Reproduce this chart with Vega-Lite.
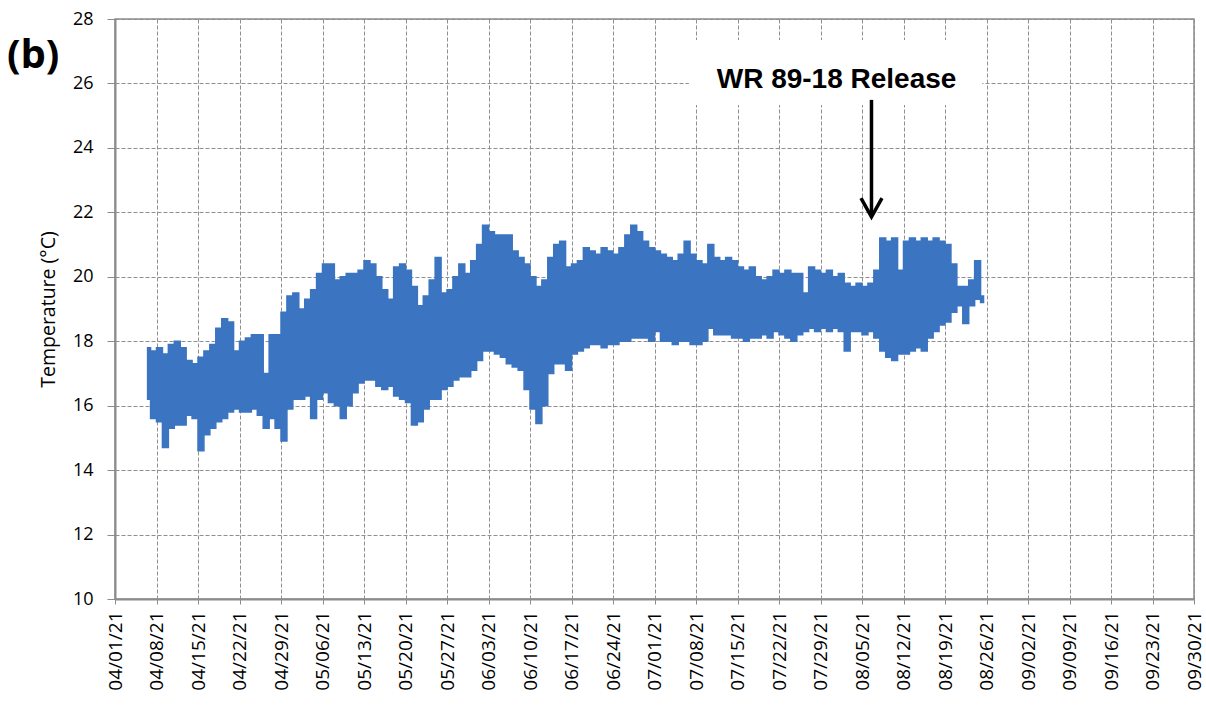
{
  "$schema": "https://vega.github.io/schema/vega-lite/v6.json",
  "width": 1079,
  "height": 580,
  "autosize": {"type": "none"},
  "padding": {"left": 115, "top": 19, "right": 12, "bottom": 107},
  "background": "white",
  "title": {"text": "(b)", "anchor": "start", "frame": "group", "orient": "top", "fontSize": 40, "fontWeight": "bold", "font": "Open Sans", "color": "#000000", "baseline": "alphabetic", "dx": -108, "dy": 102, "offset": 4},
  "config": {
    "view": {"stroke": "#8c8c8c", "strokeWidth": 1.5},
    "axis": {"labelFont": "Open Sans", "titleFont": "Open Sans", "labelColor": "#000000", "titleColor": "#000000"},
    "axisY": {"titleFontSize": 19.5, "titleFontWeight": "normal", "titleX": -57, "titleY": 290, "labelFontSize": 18}
  },
  "datasets": {
    "temp": [
      {"t":"2021-04-06T12:00","lo":16.2,"hi":17.8},
      {"t":"2021-04-07T12:00","lo":15.6,"hi":17.7},
      {"t":"2021-04-08T12:00","lo":15.5,"hi":17.8},
      {"t":"2021-04-09T12:00","lo":14.7,"hi":17.6},
      {"t":"2021-04-10T12:00","lo":15.3,"hi":17.9},
      {"t":"2021-04-11T12:00","lo":15.4,"hi":18.0},
      {"t":"2021-04-12T12:00","lo":15.4,"hi":17.8},
      {"t":"2021-04-13T12:00","lo":15.7,"hi":17.4},
      {"t":"2021-04-14T12:00","lo":15.6,"hi":17.3},
      {"t":"2021-04-15T12:00","lo":14.6,"hi":17.5},
      {"t":"2021-04-16T12:00","lo":15.1,"hi":17.7},
      {"t":"2021-04-17T12:00","lo":15.3,"hi":17.9},
      {"t":"2021-04-18T12:00","lo":15.5,"hi":18.4},
      {"t":"2021-04-19T12:00","lo":15.6,"hi":18.7},
      {"t":"2021-04-20T12:00","lo":15.8,"hi":18.6},
      {"t":"2021-04-21T12:00","lo":15.9,"hi":17.7},
      {"t":"2021-04-22T12:00","lo":15.8,"hi":18.0},
      {"t":"2021-04-23T12:00","lo":15.8,"hi":18.1},
      {"t":"2021-04-24T12:00","lo":15.9,"hi":18.2},
      {"t":"2021-04-25T12:00","lo":15.7,"hi":18.2},
      {"t":"2021-04-26T12:00","lo":15.3,"hi":17.0},
      {"t":"2021-04-27T12:00","lo":15.6,"hi":18.2},
      {"t":"2021-04-28T12:00","lo":15.3,"hi":18.2},
      {"t":"2021-04-29T12:00","lo":14.9,"hi":18.9},
      {"t":"2021-04-30T12:00","lo":15.9,"hi":19.4},
      {"t":"2021-05-01T12:00","lo":16.2,"hi":19.5},
      {"t":"2021-05-02T12:00","lo":16.2,"hi":19.0},
      {"t":"2021-05-03T12:00","lo":16.3,"hi":19.3},
      {"t":"2021-05-04T12:00","lo":15.6,"hi":19.6},
      {"t":"2021-05-05T12:00","lo":16.2,"hi":20.1},
      {"t":"2021-05-06T12:00","lo":16.4,"hi":20.4},
      {"t":"2021-05-07T12:00","lo":16.1,"hi":20.4},
      {"t":"2021-05-08T12:00","lo":16.0,"hi":19.9},
      {"t":"2021-05-09T12:00","lo":15.6,"hi":20.0},
      {"t":"2021-05-10T12:00","lo":16.0,"hi":20.1},
      {"t":"2021-05-11T12:00","lo":16.4,"hi":20.1},
      {"t":"2021-05-12T12:00","lo":16.7,"hi":20.2},
      {"t":"2021-05-13T12:00","lo":16.8,"hi":20.5},
      {"t":"2021-05-14T12:00","lo":16.8,"hi":20.4},
      {"t":"2021-05-15T12:00","lo":16.6,"hi":20.0},
      {"t":"2021-05-16T12:00","lo":16.5,"hi":19.6},
      {"t":"2021-05-17T12:00","lo":16.6,"hi":19.3},
      {"t":"2021-05-18T12:00","lo":16.3,"hi":20.3},
      {"t":"2021-05-19T12:00","lo":16.2,"hi":20.4},
      {"t":"2021-05-20T12:00","lo":16.1,"hi":20.2},
      {"t":"2021-05-21T12:00","lo":15.4,"hi":19.7},
      {"t":"2021-05-22T12:00","lo":15.5,"hi":19.1},
      {"t":"2021-05-23T12:00","lo":15.9,"hi":19.4},
      {"t":"2021-05-24T12:00","lo":16.2,"hi":19.9},
      {"t":"2021-05-25T12:00","lo":16.2,"hi":20.6},
      {"t":"2021-05-26T12:00","lo":16.5,"hi":19.5},
      {"t":"2021-05-27T12:00","lo":16.6,"hi":19.6},
      {"t":"2021-05-28T12:00","lo":16.8,"hi":20.0},
      {"t":"2021-05-29T12:00","lo":16.9,"hi":20.4},
      {"t":"2021-05-30T12:00","lo":16.9,"hi":20.1},
      {"t":"2021-05-31T12:00","lo":17.1,"hi":20.5},
      {"t":"2021-06-01T12:00","lo":17.4,"hi":21.0},
      {"t":"2021-06-02T12:00","lo":17.7,"hi":21.6},
      {"t":"2021-06-03T12:00","lo":17.7,"hi":21.4},
      {"t":"2021-06-04T12:00","lo":17.6,"hi":21.3},
      {"t":"2021-06-05T12:00","lo":17.5,"hi":21.3},
      {"t":"2021-06-06T12:00","lo":17.3,"hi":21.3},
      {"t":"2021-06-07T12:00","lo":17.2,"hi":20.8},
      {"t":"2021-06-08T12:00","lo":17.1,"hi":20.6},
      {"t":"2021-06-09T12:00","lo":16.5,"hi":20.4},
      {"t":"2021-06-10T12:00","lo":15.9,"hi":20.0},
      {"t":"2021-06-11T12:00","lo":15.45,"hi":19.7},
      {"t":"2021-06-12T12:00","lo":16.0,"hi":19.9},
      {"t":"2021-06-13T12:00","lo":17.0,"hi":20.6},
      {"t":"2021-06-14T12:00","lo":17.3,"hi":21.0},
      {"t":"2021-06-15T12:00","lo":17.3,"hi":21.1},
      {"t":"2021-06-16T12:00","lo":17.1,"hi":20.3},
      {"t":"2021-06-17T12:00","lo":17.6,"hi":20.4},
      {"t":"2021-06-18T12:00","lo":17.7,"hi":20.5},
      {"t":"2021-06-19T12:00","lo":17.8,"hi":20.9},
      {"t":"2021-06-20T12:00","lo":17.9,"hi":20.8},
      {"t":"2021-06-21T12:00","lo":17.9,"hi":20.7},
      {"t":"2021-06-22T12:00","lo":17.8,"hi":20.9},
      {"t":"2021-06-23T12:00","lo":17.9,"hi":20.8},
      {"t":"2021-06-24T12:00","lo":17.9,"hi":20.7},
      {"t":"2021-06-25T12:00","lo":18.0,"hi":20.9},
      {"t":"2021-06-26T12:00","lo":18.0,"hi":21.3},
      {"t":"2021-06-27T12:00","lo":18.1,"hi":21.6},
      {"t":"2021-06-28T12:00","lo":18.1,"hi":21.4},
      {"t":"2021-06-29T12:00","lo":18.1,"hi":21.1},
      {"t":"2021-06-30T12:00","lo":18.0,"hi":20.9},
      {"t":"2021-07-01T12:00","lo":18.3,"hi":20.8},
      {"t":"2021-07-02T12:00","lo":18.0,"hi":20.7},
      {"t":"2021-07-03T12:00","lo":18.0,"hi":20.6},
      {"t":"2021-07-04T12:00","lo":17.9,"hi":20.5},
      {"t":"2021-07-05T12:00","lo":18.0,"hi":20.7},
      {"t":"2021-07-06T12:00","lo":18.0,"hi":21.1},
      {"t":"2021-07-07T12:00","lo":17.9,"hi":20.7},
      {"t":"2021-07-08T12:00","lo":17.9,"hi":20.5},
      {"t":"2021-07-09T12:00","lo":18.0,"hi":20.4},
      {"t":"2021-07-10T12:00","lo":18.4,"hi":21.0},
      {"t":"2021-07-11T12:00","lo":18.2,"hi":20.6},
      {"t":"2021-07-12T12:00","lo":18.2,"hi":20.5},
      {"t":"2021-07-13T12:00","lo":18.2,"hi":20.6},
      {"t":"2021-07-14T12:00","lo":18.1,"hi":20.5},
      {"t":"2021-07-15T12:00","lo":18.1,"hi":20.3},
      {"t":"2021-07-16T12:00","lo":18.0,"hi":20.2},
      {"t":"2021-07-17T12:00","lo":18.1,"hi":20.3},
      {"t":"2021-07-18T12:00","lo":18.1,"hi":20.0},
      {"t":"2021-07-19T12:00","lo":18.2,"hi":19.9},
      {"t":"2021-07-20T12:00","lo":18.1,"hi":20.0},
      {"t":"2021-07-21T12:00","lo":18.3,"hi":20.2},
      {"t":"2021-07-22T12:00","lo":18.2,"hi":20.1},
      {"t":"2021-07-23T12:00","lo":18.1,"hi":20.2},
      {"t":"2021-07-24T12:00","lo":18.0,"hi":20.1},
      {"t":"2021-07-25T12:00","lo":18.2,"hi":20.1},
      {"t":"2021-07-26T12:00","lo":18.3,"hi":19.5},
      {"t":"2021-07-27T12:00","lo":18.4,"hi":20.3},
      {"t":"2021-07-28T12:00","lo":18.3,"hi":20.2},
      {"t":"2021-07-29T12:00","lo":18.4,"hi":20.1},
      {"t":"2021-07-30T12:00","lo":18.3,"hi":20.2},
      {"t":"2021-07-31T12:00","lo":18.4,"hi":20.0},
      {"t":"2021-08-01T12:00","lo":18.3,"hi":20.1},
      {"t":"2021-08-02T12:00","lo":17.7,"hi":19.8},
      {"t":"2021-08-03T12:00","lo":18.3,"hi":19.7},
      {"t":"2021-08-04T12:00","lo":18.3,"hi":19.8},
      {"t":"2021-08-05T12:00","lo":18.2,"hi":19.7},
      {"t":"2021-08-06T12:00","lo":18.3,"hi":19.8},
      {"t":"2021-08-07T12:00","lo":18.1,"hi":20.2},
      {"t":"2021-08-08T12:00","lo":17.7,"hi":21.2},
      {"t":"2021-08-09T12:00","lo":17.5,"hi":21.1},
      {"t":"2021-08-10T12:00","lo":17.4,"hi":21.2},
      {"t":"2021-08-11T12:00","lo":17.6,"hi":20.2},
      {"t":"2021-08-12T12:00","lo":17.6,"hi":21.1},
      {"t":"2021-08-13T12:00","lo":17.7,"hi":21.2},
      {"t":"2021-08-14T12:00","lo":17.8,"hi":21.1},
      {"t":"2021-08-15T12:00","lo":17.7,"hi":21.2},
      {"t":"2021-08-16T12:00","lo":18.1,"hi":21.1},
      {"t":"2021-08-17T12:00","lo":18.3,"hi":21.2},
      {"t":"2021-08-18T12:00","lo":18.5,"hi":21.1},
      {"t":"2021-08-19T12:00","lo":18.6,"hi":21.0},
      {"t":"2021-08-20T12:00","lo":18.9,"hi":20.4},
      {"t":"2021-08-21T12:00","lo":19.1,"hi":19.7},
      {"t":"2021-08-22T12:00","lo":18.55,"hi":19.7},
      {"t":"2021-08-23T12:00","lo":19.1,"hi":19.9},
      {"t":"2021-08-24T12:00","lo":19.3,"hi":20.5},
      {"t":"2021-08-25T12:00","lo":19.2,"hi":19.4}
    ]
  },
  "layer": [
    {
      "data": {"values": [{"t1": "2021-07-06T19:00", "t2": "2021-08-25T07:00", "v1": 27.35, "v2": 25.33}]},
      "mark": {"type": "rect", "fill": "white", "stroke": null},
      "encoding": {
        "x": {"field": "t1", "type": "temporal", "title": null},
        "x2": {"field": "t2"},
        "y": {"field": "v1", "type": "quantitative", "title": "Temperature (°C)"},
        "y2": {"field": "v2"}
      }
    },
    {
      "data": {"name": "temp"},
      "mark": {"type": "area", "color": "#3b74c0", "interpolate": "step", "stroke": "#3b74c0", "strokeWidth": 1.5, "opacity": 1},
      "encoding": {
        "x": {
          "field": "t", "type": "temporal",
          "scale": {"domain": [{"year": 2021, "month": 4, "date": 1}, {"year": 2021, "month": 9, "date": 30}], "nice": false},
          "axis": {
            "title": null,
            "values": [
              {"year": 2021, "month": 4, "date": 1}, {"year": 2021, "month": 4, "date": 8}, {"year": 2021, "month": 4, "date": 15},
              {"year": 2021, "month": 4, "date": 22}, {"year": 2021, "month": 4, "date": 29}, {"year": 2021, "month": 5, "date": 6},
              {"year": 2021, "month": 5, "date": 13}, {"year": 2021, "month": 5, "date": 20}, {"year": 2021, "month": 5, "date": 27},
              {"year": 2021, "month": 6, "date": 3}, {"year": 2021, "month": 6, "date": 10}, {"year": 2021, "month": 6, "date": 17},
              {"year": 2021, "month": 6, "date": 24}, {"year": 2021, "month": 7, "date": 1}, {"year": 2021, "month": 7, "date": 8},
              {"year": 2021, "month": 7, "date": 15}, {"year": 2021, "month": 7, "date": 22}, {"year": 2021, "month": 7, "date": 29},
              {"year": 2021, "month": 8, "date": 5}, {"year": 2021, "month": 8, "date": 12}, {"year": 2021, "month": 8, "date": 19},
              {"year": 2021, "month": 8, "date": 26}, {"year": 2021, "month": 9, "date": 2}, {"year": 2021, "month": 9, "date": 9},
              {"year": 2021, "month": 9, "date": 16}, {"year": 2021, "month": 9, "date": 23}, {"year": 2021, "month": 9, "date": 30}
            ],
            "format": "%m/%d/%y",
            "labelAngle": -90,
            "labelFontSize": 19,
            "labelPadding": 7,
            "labelOverlap": false,
            "labelBound": false,
            "labelFlush": false,
            "tickSize": 5,
            "tickColor": "#8c8c8c",
            "domainColor": "#8c8c8c",
            "domainWidth": 2,
            "grid": true,
            "gridColor": "#8f8f8f",
            "gridDash": [4, 2],
            "gridWidth": 1
          }
        },
        "y": {
          "field": "lo", "type": "quantitative",
          "scale": {"domain": [10, 28], "nice": false, "zero": false},
          "axis": {
            "title": "Temperature (°C)",
            "titleFontSize": 19.5,
            "titleFontWeight": "normal",
            "titleX": -57,
            "titleY": 290,
            "values": [10, 12, 14, 16, 18, 20, 22, 24, 26, 28],
            "labelFontSize": 18,
            "labelPadding": 14,
            "tickSize": 8,
            "tickColor": "#8c8c8c",
            "domainColor": "#8c8c8c",
            "domainWidth": 2,
            "grid": true,
            "gridColor": "#8f8f8f",
            "gridDash": [4, 2],
            "gridWidth": 1
          }
        },
        "y2": {"field": "hi"}
      }
    },
    {
      "data": {"values": [{"t": "2021-08-06T14:24", "v": 25.49, "v2": 21.95}]},
      "mark": {"type": "rule", "color": "#000000", "strokeWidth": 3.5},
      "encoding": {
        "x": {"field": "t", "type": "temporal", "title": null},
        "y": {"field": "v", "type": "quantitative", "title": "Temperature (°C)"},
        "y2": {"field": "v2"}
      }
    },
    {
      "data": {"values": [
        {"t": "2021-08-04T19:55", "v": 22.44, "k": 0},
        {"t": "2021-08-06T14:24", "v": 21.86, "k": 1},
        {"t": "2021-08-08T08:53", "v": 22.44, "k": 2}
      ]},
      "mark": {"type": "line", "color": "#000000", "strokeWidth": 3.5, "strokeJoin": "miter", "strokeCap": "butt"},
      "encoding": {
        "x": {"field": "t", "type": "temporal", "title": null},
        "y": {"field": "v", "type": "quantitative", "title": "Temperature (°C)"},
        "order": {"field": "k", "type": "quantitative"}
      }
    },
    {
      "data": {"values": [{"t": "2021-07-31T17:00", "v": 25.85, "label": "WR 89-18 Release"}]},
      "mark": {"type": "text", "font": "Liberation Sans", "fontSize": 28, "fontWeight": "bold", "color": "#000000", "align": "center", "baseline": "alphabetic"},
      "encoding": {
        "x": {"field": "t", "type": "temporal", "title": null},
        "y": {"field": "v", "type": "quantitative", "title": "Temperature (°C)"},
        "text": {"field": "label"}
      }
    }
  ]
}
